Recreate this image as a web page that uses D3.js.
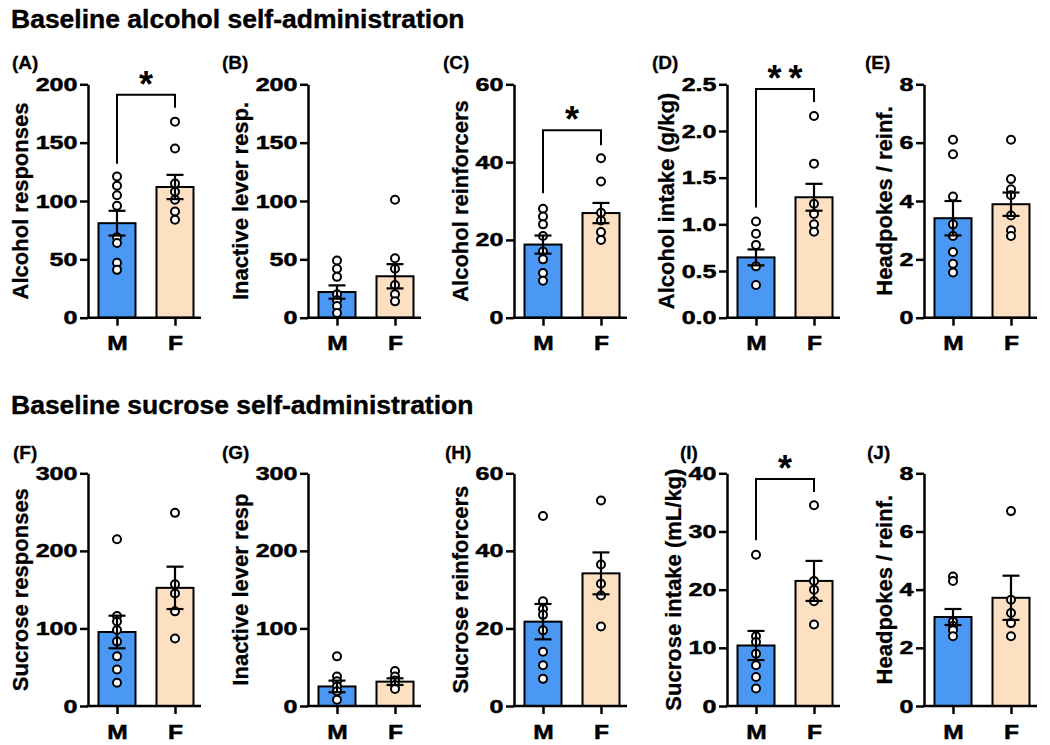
<!DOCTYPE html>
<html>
<head>
<meta charset="utf-8">
<script src="https://cdn.jsdelivr.net/npm/d3@7"></script>
<style>
  html, body { margin: 0; padding: 0; background: #fff; }
  svg { display: block; font-family: "Liberation Sans", Arial, Helvetica, sans-serif; }
</style>
</head>
<body>
<svg id="chart" width="1050" height="745"></svg>
<script>
// ---------------- data ----------------
const groups = ["M", "F"];
const sectionTitles = ["Baseline alcohol self-administration", "Baseline sucrose self-administration"];
const panelLetters = ["(A)", "(B)", "(C)", "(D)", "(E)", "(F)", "(G)", "(H)", "(I)", "(J)"];
const yLabels = [
  "Alcohol responses", "Inactive lever resp.", "Alcohol reinforcers", "Alcohol intake (g/kg)", "Headpokes / reinf.",
  "Sucrose responses", "Inactive lever resp", "Sucrose reinforcers", "Sucrose intake (mL/kg)", "Headpokes / reinf."
];
const yMax = [200, 200, 60, 2.5, 8, 300, 300, 60, 40, 8];
const yTicks = [
  [0, 50, 100, 150, 200], [0, 50, 100, 150, 200], [0, 20, 40, 60], [0, 0.5, 1.0, 1.5, 2.0, 2.5], [0, 2, 4, 6, 8],
  [0, 100, 200, 300], [0, 100, 200, 300], [0, 20, 40, 60], [0, 10, 20, 30, 40], [0, 2, 4, 6, 8]
];
const yTickDecimals = [0, 0, 0, 1, 0, 0, 0, 0, 0, 0];
// bar means [M, F]
const barMeans = [
  [81, 112], [22, 35.5], [18.8, 26.9], [0.646, 1.29], [3.41, 3.89],
  [95.4, 152.3], [25.2, 31.4], [21.75, 34.2], [10.4, 21.5], [3.06, 3.72]
];
// SEM [M, F]
const barSEM = [
  [10.6, 10.4], [5.7, 10.4], [2.33, 2.6], [0.085, 0.144], [0.59, 0.40],
  [21, 27.3], [7.5, 4.3], [4.56, 5.4], [2.5, 3.44], [0.275, 0.76]
];
// individual points
const pointsM = [
  [121, 113, 105, 96, 69, 64, 47, 41],
  [49, 42, 35, 20, 15, 10, 4],
  [28, 26, 24, 21, 17, 15, 11.5, 9.5],
  [1.03, 0.9, 0.78, 0.55, 0.35],
  [6.1, 5.6, 4.15, 3.2, 2.8, 2.25, 1.85, 1.55],
  [215, 116, 109, 98, 83, 64, 47, 30],
  [64, 38, 32, 25, 19, 8],
  [49, 27, 25, 23.5, 19.5, 14, 10.5, 7],
  [26, 12, 11, 9, 7, 5, 3],
  [4.45, 4.3, 2.9, 2.75, 2.6, 2.4]
];
const pointsF = [
  [168, 145, 115, 108, 101, 91, 84],
  [101, 51, 42, 28, 20, 14],
  [41, 35, 27, 25, 22, 20],
  [2.16, 1.65, 1.22, 1.11, 1.0, 0.92],
  [6.1, 4.75, 4.4, 4.2, 3.5, 3.0, 2.8],
  [249, 157, 145, 122, 87],
  [45, 38, 33, 27, 22],
  [53, 36.5, 31.5, 28.5, 20.5],
  [34.5, 21.5, 20, 18, 14],
  [6.7, 3.65, 3.2, 2.85, 2.4]
];
// significance: label, bracket top value, M leg end, F leg end
const sigLabels = ["*", "", "*", "**", "", "", "", "", "*", ""];
const sigBracket = [
  [191, 132, 180], null, [48.2, 32, 44.3], [2.45, 1.18, 2.31], null,
  null, null, null, [39, 28.5, 36.8], null
];

// ---------------- layout ----------------
const axisX = [88, 308, 514, 727, 924];
const rowTop = [84.3, 473.3];
const rowBottom = [317.7, 706];
const letterDx = [-76, -86, -71, -75, -59, -75, -86, -69, -47, -57];
const letterY = [69, 459];
const titleY = [28, 414];
const colors = { M: "#4a98f3", F: "#fde0c2" };
const barW = 37;

const svg = d3.select("#chart");

sectionTitles.forEach((t, r) => {
  svg.append("text").attr("x", 11).attr("y", titleY[r])
    .attr("font-size", 26.5).attr("font-weight", "bold").attr("fill", "#000")
    .attr("stroke", "#000").attr("stroke-width", 0.4).text(t);
});

for (let i = 0; i < 10; i++) {
  const col = i % 5, row = Math.floor(i / 5);
  const ax = axisX[col];
  const top = rowTop[row], bottom = rowBottom[row];
  const y = d3.scaleLinear().domain([0, yMax[i]]).range([bottom, top]);
  const x = d3.scalePoint().domain(groups).range([ax + 29, ax + 87]);
  const g = svg.append("g");

  // bars
  g.selectAll("rect.bar").data(groups).join("rect")
    .attr("x", d => x(d) - barW / 2)
    .attr("y", (d, k) => y(barMeans[i][k]))
    .attr("width", barW)
    .attr("height", (d, k) => y(0) - y(barMeans[i][k]))
    .attr("fill", d => colors[d])
    .attr("stroke", "#000").attr("stroke-width", 2);

  // points
  const pts = [];
  pointsM[i].forEach(v => pts.push({ grp: "M", v }));
  pointsF[i].forEach(v => pts.push({ grp: "F", v }));
  g.selectAll("circle").data(pts).join("circle")
    .attr("cx", d => x(d.grp)).attr("cy", d => y(d.v)).attr("r", 4)
    .attr("fill", "#fff").attr("stroke", "#000").attr("stroke-width", 2);

  // error bars
  groups.forEach((grp, k) => {
    const m = barMeans[i][k], s = barSEM[i][k];
    const cx = x(grp);
    const eg = g.append("g").attr("stroke", "#000").attr("stroke-width", 2.2);
    eg.append("line").attr("x1", cx).attr("x2", cx).attr("y1", y(m - s)).attr("y2", y(m + s));
    eg.append("line").attr("x1", cx - 8.5).attr("x2", cx + 8.5).attr("y1", y(m + s)).attr("y2", y(m + s));
    eg.append("line").attr("x1", cx - 8.5).attr("x2", cx + 8.5).attr("y1", y(m - s)).attr("y2", y(m - s));
  });

  // y axis
  const fmt = yTickDecimals[i] ? d3.format(".1f") : d3.format("d");
  const yAxis = g.append("g").attr("transform", `translate(${ax},0)`)
    .call(d3.axisLeft(y).tickValues(yTicks[i]).tickFormat(fmt).tickSize(8).tickSizeOuter(0).tickPadding(3));
  yAxis.select(".domain").attr("stroke", "#000").attr("stroke-width", 2.5);
  yAxis.selectAll(".tick line").attr("stroke", "#000").attr("stroke-width", 2.5);
  yAxis.selectAll(".tick text").attr("fill", "#000").attr("font-size", 19).attr("font-weight", "bold")
    .attr("font-family", "Liberation Sans, Arial, sans-serif")
    .attr("stroke", "#000").attr("stroke-width", 0.5)
    .attr("x", 0).attr("transform", "translate(-10.5,0) scale(1.32,1)");

  // x axis
  const xAxis = g.append("g").attr("transform", `translate(0,${bottom})`)
    .call(d3.axisBottom(x).tickSize(8).tickSizeOuter(0).tickPadding(10));
  xAxis.select(".domain").remove();
  xAxis.selectAll(".tick line").attr("stroke", "#000").attr("stroke-width", 2.5);
  xAxis.selectAll(".tick text").attr("fill", "#000").attr("font-size", 20.5).attr("font-weight", "bold")
    .attr("font-family", "Liberation Sans, Arial, sans-serif")
    .attr("stroke", "#000").attr("stroke-width", 0.5)
    .attr("transform", "scale(1.2,1)");
  g.append("line").attr("x1", ax - 1.25).attr("x2", ax + 113).attr("y1", bottom).attr("y2", bottom)
    .attr("stroke", "#000").attr("stroke-width", 2.5);

  // y label
  const bb = yAxis.node().getBBox();
  const lx = bb.x + ax - 15;
  const ly = (top + bottom) / 2;
  g.append("text").attr("transform", `translate(${lx},${ly}) rotate(-90)`)
    .attr("text-anchor", "middle").attr("dominant-baseline", "central")
    .attr("font-size", 22).attr("font-weight", "bold").attr("fill", "#000")
    .attr("stroke", "#000").attr("stroke-width", 0.3).text(yLabels[i]);

  // panel letter
  g.append("text").attr("x", ax + letterDx[i]).attr("y", letterY[row])
    .attr("font-size", 19).attr("font-weight", "bold").attr("fill", "#000")
    .attr("stroke", "#000").attr("stroke-width", 0.3).text(panelLetters[i]);

  // significance
  if (sigBracket[i]) {
    const [t, lM, lF] = sigBracket[i];
    const xm = x("M"), xf = x("F");
    g.append("path")
      .attr("d", `M${xm},${y(lM)}V${y(t)}H${xf}V${y(lF)}`)
      .attr("fill", "none").attr("stroke", "#000").attr("stroke-width", 2);
    const stars = sigLabels[i].split("");
    const cxs = (xm + xf) / 2;
    stars.forEach((s, k) => {
      g.append("text").attr("x", cxs + (k - (stars.length - 1) / 2) * 21).attr("y", y(t) + 2)
        .attr("text-anchor", "middle").attr("font-size", 36).attr("font-weight", "bold")
        .attr("fill", "#000").text(s);
    });
  }
}
</script>
</body>
</html>
